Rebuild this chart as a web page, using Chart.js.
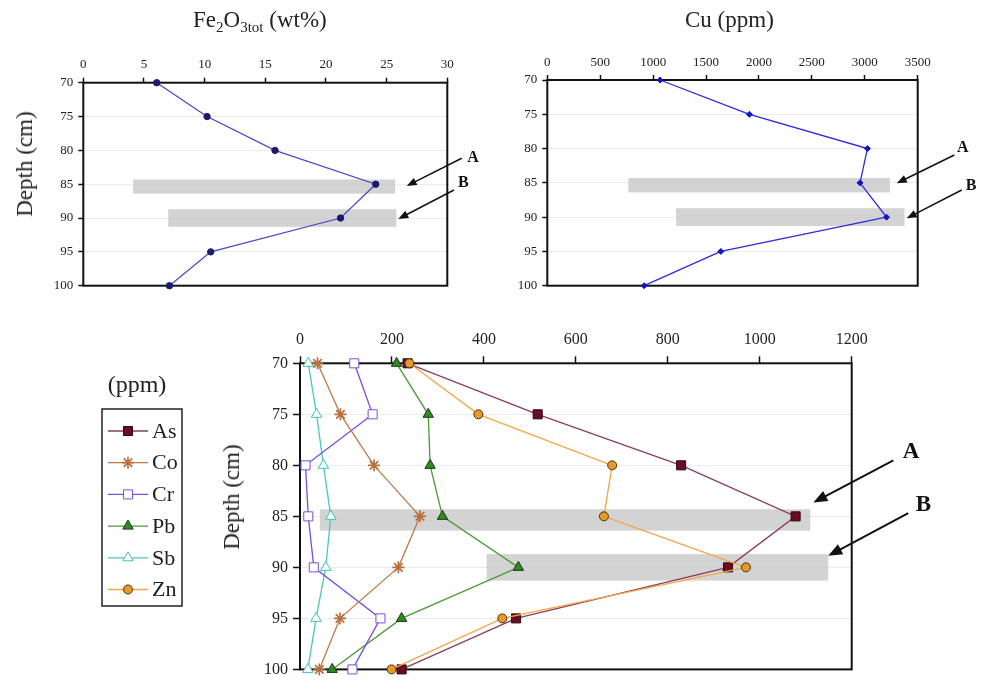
<!DOCTYPE html>
<html>
<head>
<meta charset="utf-8">
<script src="https://cdn.jsdelivr.net/npm/chart.js@4.4.1/dist/chart.umd.min.js"></script>
<style>
  body { margin: 0; background: #fff; }
  #wrap { position: relative; width: 982px; height: 684px; overflow: hidden; font-family: 'Liberation Serif', 'Times New Roman', serif; color: #222; }
  .box { position: absolute; }
  .txt { position: absolute; white-space: nowrap; font-size: 23px; line-height: 26px; }
  .txt sub { font-size: 15px; vertical-align: -5px; line-height: 0; }
  .ylab { transform: translate(-50%, -50%) rotate(-90deg); }
</style>
</head>
<body>
<div id="wrap">
  <div class="box" style="left:0;top:0;width:490px;height:300px"><canvas id="chartFe"></canvas></div>
  <div class="box" style="left:490px;top:0;width:492px;height:300px"><canvas id="chartCu"></canvas></div>
  <div class="box" style="left:0;top:300px;width:982px;height:384px"><canvas id="chartMetals"></canvas></div>

  <div class="txt" style="left:193px;top:7px">Fe<sub>2</sub>O<sub>3tot</sub> (wt%)</div>
  <div class="txt" style="left:685px;top:7px">Cu (ppm)</div>
  <div class="txt ylab" style="left:25px;top:164px">Depth (cm)</div>
  <div class="txt ylab" style="left:232px;top:497px">Depth (cm)</div>
</div>

<script>
// sample depths (cm), shared by all three profiles
const depths = [70, 75, 80, 85, 90, 95, 100];

// values
const fe2o3 = [6.05, 10.2, 15.8, 24.1, 21.2, 10.5, 7.1];   // wt%
const cu = [1065, 1910, 3025, 2955, 3205, 1640, 915];      // ppm
const as = [234, 517, 829, 1078, 931, 470, 221];
const co = [38, 88, 161, 261, 214, 87, 42];
const cr = [118, 158, 12, 18, 30, 175, 114];
const pb = [210, 279, 283, 310, 475, 221, 70];
const sb = [18, 36, 51, 67, 56, 35, 17];
const zn = [238, 388, 679, 661, 970, 440, 199];

// grey layers A and B: depth range and value range
const layerDepths = [[84.3, 86.4], [88.7, 91.3]];
const feLayers = [[4.1, 25.7], [7.0, 25.8]];
const cuLayers = [[766, 3239], [1217, 3375]];
const metalLayers = [[43, 1110], [406, 1149]];
const layerNames = ['A', 'B'];

const SERIF = "'Liberation Serif', 'Times New Roman', serif";

function points(values) {
  return values.map(function(v, i) { return {x: v, y: depths[i]}; });
}

// grey bands + arrows with the A / B letters
const layerPlugin = {
  id: 'layers',
  beforeDatasetsDraw(chart, args, opts) {
    const {ctx, scales: {x, y}} = chart;
    ctx.save();
    ctx.fillStyle = 'rgba(200,200,200,0.8)';
    opts.values.forEach(function(r, i) {
      const d = layerDepths[i];
      const x0 = x.getPixelForValue(r[0]), x1 = x.getPixelForValue(r[1]);
      const y0 = y.getPixelForValue(d[0]), y1 = y.getPixelForValue(d[1]);
      ctx.fillRect(x0, y0, x1 - x0, y1 - y0);
    });
    // plot frame
    const a = chart.chartArea;
    ctx.strokeStyle = '#111';
    ctx.lineWidth = 2;
    ctx.strokeRect(a.left, a.top, a.right - a.left, a.bottom - a.top);
    ctx.restore();
  },
  afterDraw(chart, args, opts) {
    const {ctx, scales: {x, y}} = chart;
    ctx.save();
    ctx.strokeStyle = '#111';
    ctx.fillStyle = '#111';
    ctx.lineWidth = opts.lineWidth;
    opts.arrows.forEach(function(ar, i) {
      const tx = x.getPixelForValue(ar.tail[0]), ty = y.getPixelForValue(ar.tail[1]);
      const hx = x.getPixelForValue(ar.tip[0]), hy = y.getPixelForValue(ar.tip[1]);
      const ang = Math.atan2(hy - ty, hx - tx);
      const L = opts.head, W = opts.head * 0.4;
      ctx.beginPath();
      ctx.moveTo(tx, ty);
      ctx.lineTo(hx - L * 0.8 * Math.cos(ang), hy - L * 0.8 * Math.sin(ang));
      ctx.stroke();
      ctx.beginPath();
      ctx.moveTo(hx, hy);
      ctx.lineTo(hx - L * Math.cos(ang) + W * Math.sin(ang), hy - L * Math.sin(ang) - W * Math.cos(ang));
      ctx.lineTo(hx - L * Math.cos(ang) - W * Math.sin(ang), hy - L * Math.sin(ang) + W * Math.cos(ang));
      ctx.closePath();
      ctx.fill();
      ctx.font = 'bold ' + opts.fontSize + 'px ' + SERIF;
      ctx.textAlign = 'center';
      ctx.textBaseline = 'middle';
      ctx.fillText(layerNames[i], x.getPixelForValue(ar.label[0]), y.getPixelForValue(ar.label[1]));
    });
    ctx.restore();
  }
};

// legend with line + marker, like the spreadsheet one
const boxLegendPlugin = {
  id: 'boxLegend',
  afterDraw(chart, args, opts) {
    const ctx = chart.ctx;
    ctx.save();
    ctx.fillStyle = '#222';
    ctx.font = '24px ' + SERIF;
    ctx.textAlign = 'center';
    ctx.textBaseline = 'middle';
    ctx.fillText('(ppm)', 137, 86);
    ctx.strokeStyle = '#222';
    ctx.lineWidth = 1.5;
    ctx.strokeRect(102, 109, 80, 197);
    ctx.font = '22px ' + SERIF;
    ctx.textAlign = 'left';
    chart.data.datasets.forEach(function(ds, i) {
      const yy = 131 + i * 31.7;
      ctx.strokeStyle = ds.borderColor;
      ctx.lineWidth = 1.3;
      ctx.beginPath();
      ctx.moveTo(108, yy);
      ctx.lineTo(148, yy);
      ctx.stroke();
      ctx.fillStyle = ds.pointBackgroundColor;
      ctx.strokeStyle = ds.pointBorderColor;
      ctx.lineWidth = ds.pointBorderWidth;
      Chart.helpers.drawPoint(ctx, {pointStyle: ds.pointStyle, rotation: 0, radius: ds.pointRadius, borderWidth: ds.pointBorderWidth}, 128, yy);
      ctx.fillStyle = '#222';
      ctx.fillText(ds.label, 152, yy + 1);
    });
    ctx.restore();
  }
};

function depthAxis(fontSize, tickLen, pad, width) {
  return {
    type: 'linear', position: 'left', reverse: true, min: 70, max: 100,
    ticks: {stepSize: 5, color: '#222', padding: pad, font: {family: SERIF, size: fontSize}},
    grid: {color: '#ebebeb', tickColor: '#111', tickLength: tickLen, tickWidth: 1.5},
    border: {display: false},
    afterFit: function(s) { s.width = width; }
  };
}

function valueAxis(max, step, fontSize, tickLen, pad, height) {
  return {
    type: 'linear', position: 'top', min: 0, max: max,
    ticks: {stepSize: step, color: '#222', padding: pad, font: {family: SERIF, size: fontSize},
            callback: function(v) { return String(v); }},
    grid: {drawOnChartArea: false, tickColor: '#111', tickLength: tickLen, tickWidth: 1.5},
    border: {display: false},
    afterFit: function(s) { s.height = height; }
  };
}

function series(label, values, line, fill, edge, style, radius, order, edgeWidth) {
  return {
    label: label,
    data: points(values),
    showLine: true,
    borderColor: line,
    borderWidth: 1.3,
    pointStyle: style,
    pointRadius: radius,
    pointHoverRadius: radius,
    pointBackgroundColor: fill,
    pointBorderColor: edge,
    pointBorderWidth: edgeWidth || 1,
    clip: false,
    order: order
  };
}

function baseOptions(padding) {
  return {
    responsive: true,
    maintainAspectRatio: false,
    animation: false,
    layout: {padding: padding},
    plugins: {legend: {display: false}, tooltip: {enabled: false}}
  };
}

// CHART 1: Fe2O3 profile
const optFe = baseOptions({left: 43.3, top: 52.7, right: 42.7, bottom: 14.3});
optFe.scales = {x: valueAxis(30, 5, 13, 5, 5, 30), y: depthAxis(13, 5, 5, 40)};
optFe.plugins.layers = {
  values: feLayers, lineWidth: 1.5, head: 10, fontSize: 16,
  arrows: [
    {tail: [31.19, 81.17], tip: [26.65, 85.27], label: [32.12, 81.17]},
    {tail: [30.55, 85.86], tip: [25.96, 90.14], label: [31.32, 84.87]}
  ]
};
new Chart(document.getElementById('chartFe'), {
  type: 'scatter',
  data: {datasets: [series('Fe2O3tot', fe2o3, '#4a4ac4', '#1c1c6e', '#1c1c6e', 'circle', 3.2, 0)]},
  options: optFe,
  plugins: [layerPlugin]
});

// CHART 2: Cu profile
const optCu = baseOptions({left: 17.3, top: 50, right: 64.3, bottom: 14.3});
optCu.scales = {x: valueAxis(3500, 500, 13, 5, 5, 30), y: depthAxis(13, 5, 5, 40)};
optCu.plugins.layers = {
  values: cuLayers, lineWidth: 1.5, head: 10, fontSize: 16,
  arrows: [
    {tail: [3846, 80.94], tip: [3302, 85.06], label: [3925, 79.96]},
    {tail: [3916, 86.04], tip: [3396, 90.17], label: [4004, 85.46]}
  ]
};
new Chart(document.getElementById('chartCu'), {
  type: 'scatter',
  data: {datasets: [series('Cu', cu, '#2a2ae0', '#1616c0', '#1616c0', 'rectRot', 3, 0)]},
  options: optCu,
  plugins: [layerPlugin]
});

// CHART 3: trace metals
const optMetals = baseOptions({left: 250, top: 28.3, right: 130.3, bottom: 10.7});
optMetals.scales = {x: valueAxis(1200, 200, 16, 7, 7, 35), y: depthAxis(16, 7, 5, 50)};
optMetals.plugins.layers = {
  values: metalLayers, lineWidth: 2, head: 14, fontSize: 23,
  arrows: [
    {tail: [1290.6, 79.52], tip: [1116.6, 83.65], label: [1329, 78.68]},
    {tail: [1323, 84.68], tip: [1149, 88.87], label: [1356, 83.88]}
  ]
};
new Chart(document.getElementById('chartMetals'), {
  type: 'scatter',
  data: {
    datasets: [
      series('As', as, '#8a3c62', '#6a0d24', '#2a0a10', 'rect', 6.4, 2),
      series('Co', co, '#c07a4a', '#c07a4a', '#b8703e', 'star', 6, 3, 1.7),
      series('Cr', cr, '#7b4fe0', '#ffffff', '#7b4fe0', 'rect', 6.4, 4),
      series('Pb', pb, '#4a9a3a', '#2f8a25', '#163a10', 'triangle', 6, 5),
      series('Sb', sb, '#48c8c0', '#ffffff', '#40c0b8', 'triangle', 6, 6),
      series('Zn', zn, '#f0a848', '#e89a28', '#4a3010', 'circle', 4.5, 1)
    ]
  },
  options: optMetals,
  plugins: [layerPlugin, boxLegendPlugin]
});
</script>
</body>
</html>
